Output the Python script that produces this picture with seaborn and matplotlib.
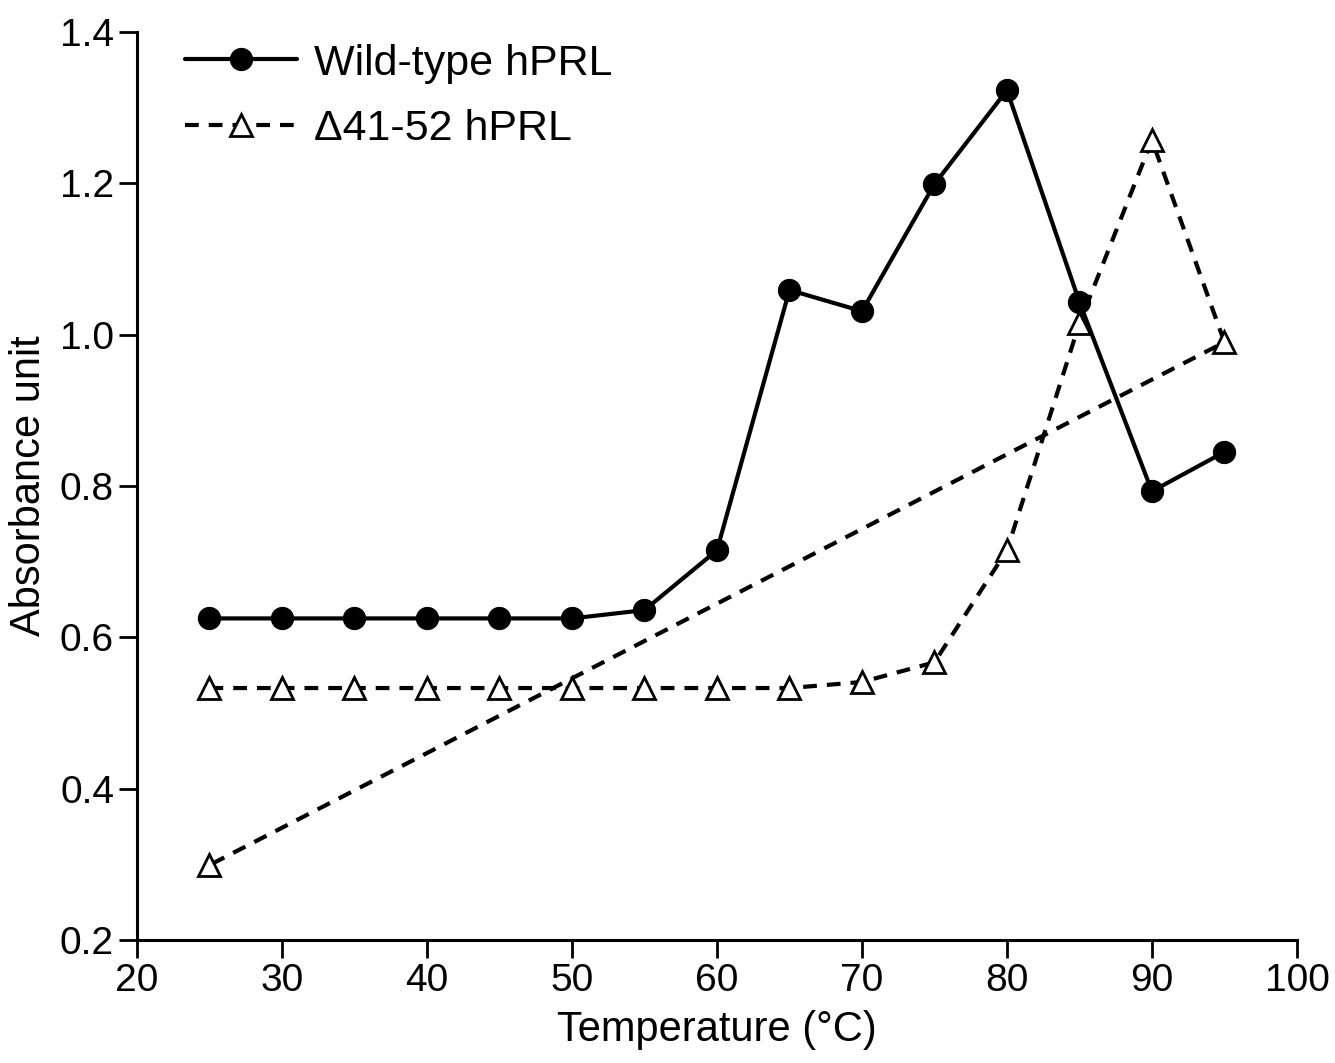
import pandas as pd
import matplotlib.pyplot as plt
import seaborn as sns

# Datos
temperatura = [25, 30, 35, 40, 45, 50, 55, 60, 65, 70, 75, 80, 85, 90, 95]
wild_type = [0.625, 0.625, 0.625, 0.625, 0.625, 0.625, 0.636, 0.715, 1.059, 1.031, 1.199, 1.323, 1.043, 0.793, 0.845]

# la serie mutante termina con un punto extra en 25 °C (la linea vuelve al inicio)
temperatura_mut = [25, 30, 35, 40, 45, 50, 55, 60, 65, 70, 75, 80, 85, 90, 95, 25]
mutante = [0.533, 0.533, 0.533, 0.533, 0.533, 0.533, 0.533, 0.533, 0.533, 0.541, 0.567, 0.715, 1.015, 1.257, 0.990, 0.299]

df_wt = pd.DataFrame({"temp": temperatura, "abs": wild_type})
df_mut = pd.DataFrame({"temp": temperatura_mut, "abs": mutante})

sns.set_style("ticks")
plt.rcParams['font.family'] = ['Liberation Sans', 'DejaVu Sans']
plt.rcParams['text.color'] = 'black'
plt.rcParams['axes.labelcolor'] = 'black'
plt.rcParams['xtick.color'] = 'black'
plt.rcParams['ytick.color'] = 'black'

fig = plt.figure(figsize=(13.35, 10.63), dpi=100)
ax = fig.add_axes([0.1026, 0.1157, 0.8689, 0.8542])

sns.lineplot(x="temp", y="abs", data=df_wt, ax=ax, sort=False, estimator=None,
             color="black", linewidth=3, marker="o", markersize=16,
             markerfacecolor="black", markeredgecolor="black", label="Wild-type hPRL")
sns.lineplot(x="temp", y="abs", data=df_mut, ax=ax, sort=False, estimator=None,
             color="black", linewidth=3, dashes=(3.3, 2.4), marker="^", markersize=16,
             markerfacecolor="white", markeredgecolor="black", markeredgewidth=2,
             label="\u039441-52 hPRL")

ax.set_xlim(20, 100)
ax.set_ylim(0.2, 1.4)
ax.set_xticks(range(20, 101, 10))
ax.set_yticks([0.2, 0.4, 0.6, 0.8, 1.0, 1.2, 1.4])
ax.set_yticklabels(["0.2", "0.4", "0.6", "0.8", "1.0", "1.2", "1.4"])

ax.set_xlabel("Temperature (°C)", fontsize=30, labelpad=8)
ax.set_ylabel("Absorbance unit", fontsize=30, labelpad=8)
ax.tick_params(axis="both", labelsize=28, length=13, width=2, direction="out", color="black")

sns.despine(ax=ax)
for s in ["left", "bottom"]:
    ax.spines[s].set_linewidth(2.2)
    ax.spines[s].set_color("black")

ax.legend(loc="upper left", bbox_to_anchor=(0.008, 1.03), frameon=False, fontsize=31,
          handlelength=2.6, numpoints=1, handletextpad=0.4, labelspacing=0.6)

plt.savefig("out.png", dpi=100)
